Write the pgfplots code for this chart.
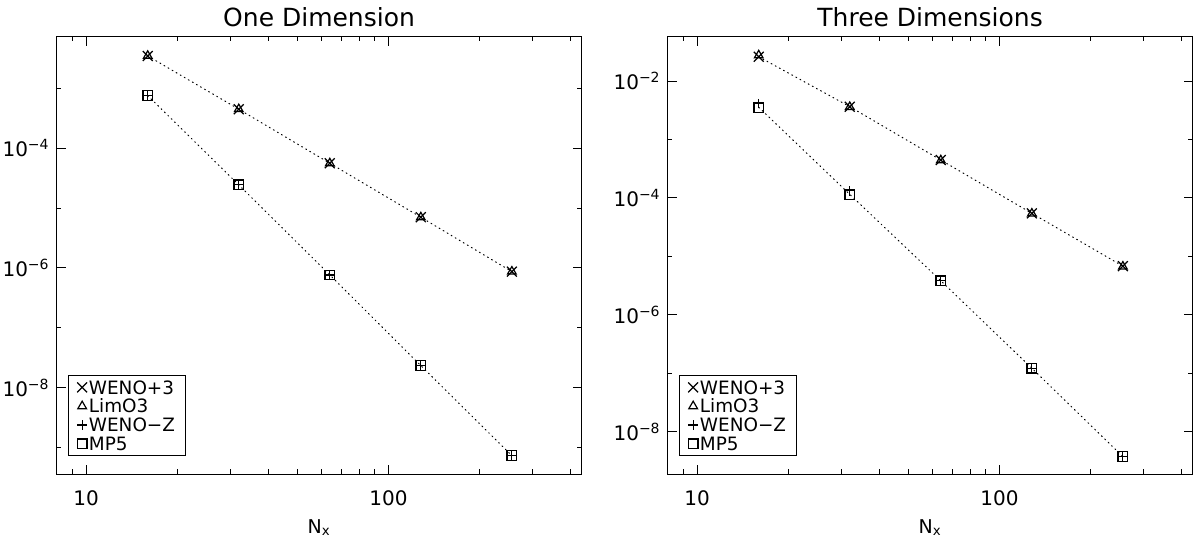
\documentclass[border=0pt]{standalone}
\usepackage{fontspec}
\setmainfont{DejaVu Sans}
\usepackage{pgfplots}
\pgfplotsset{compat=1.18}

\pgfplotsset{
  convax/.style={
    scale only axis, width=262.4pt, height=218.65pt,
    xmin=8, xmax=435,
    axis line style={line width=0.5pt},
    every tick/.style={black, line width=0.5pt},
    major tick length=4.5pt, minor tick length=2.3pt,
    tick align=inside,
    xtick={10,100}, xticklabels={10,100},
    minor xtick={9,20,30,40,50,60,70,80,90,200,300,400},
    tick label style={font=\fontsize{10}{11}\selectfont},
    xticklabel style={yshift=-5pt},
    xlabel={N\textsubscript{x}},
    xlabel style={at={(axis description cs:0.5,0)}, anchor=base, yshift=-29.5pt,
                  font=\fontsize{9.5}{10}\selectfont},
    every axis title/.style={at={(axis description cs:0.5,1)}, anchor=base, yshift=5pt,
                 font=\fontsize{12.5}{14}\selectfont},
    legend style={at={(0.021,0.041)}, anchor=south west, draw=black, line width=0.5pt,
                  inner xsep=4.5pt, inner ysep=1.2pt, row sep=0pt, column sep=0.4pt,
                  font=\fontsize{9.2}{11}\selectfont,
                  nodes={inner xsep=0.5pt, inner ysep=1.3pt, text height=6.8pt, text depth=0pt}},
    legend cell align=left,
  },
  mklegend/.style={legend image code/.code={\draw[##1] plot coordinates {(0pt,0pt)};}},
  conn/.style={forget plot, black, line width=0.5pt, dash pattern=on 0.5pt off 1.85pt, line cap=round},
  wenop/.style={black, only marks, mark=x, mark size=3.5pt, mark options={line width=0.6pt, solid}},
  limo/.style={black, only marks, mark=triangle, mark size=2.5pt, mark options={line width=0.6pt, solid}},
  wenoz/.style={black, only marks, mark=+, mark size=2.4pt, mark options={line width=0.6pt, solid}},
  mpfive/.style={black, only marks, mark=square, mark size=2.4pt, mark options={line width=0.6pt, solid}},
}

\begin{document}
\begin{tikzpicture}
\useasboundingbox (0,0) rectangle (596.5pt,268.5pt);

% ---------- one-dimensional test ----------
\begin{loglogaxis}[convax, mklegend, at={(28.35pt,31.5pt)}, anchor=south west,
  title={One Dimension},
  ymin=3.6e-10, ymax=7.3e-3,
  ytick={1e-8,1e-6,1e-4},
  yticklabels={10\textsuperscript{−8},10\textsuperscript{−6},10\textsuperscript{−4}},
  minor ytick={1e-9,1e-7,1e-5,1e-3},
]
\addplot[conn] coordinates {(16,3.48e-3)(32,4.49e-4)(64,5.61e-5)(128,7.03e-6)(256,8.67e-7)};
\addplot[conn] coordinates {(16,7.57e-4)(32,2.44e-5)(64,7.64e-7)(128,2.33e-8)(256,7.3e-10)};
\addplot[wenop]  coordinates {(16,3.48e-3)(32,4.49e-4)(64,5.61e-5)(128,7.03e-6)(256,8.67e-7)};
\addplot[limo]   coordinates {(16,3.5e-3)(32,4.5e-4)(64,5.6e-5)(128,7.0e-6)(256,8.7e-7)};
\addplot[wenoz]  coordinates {(16,7.57e-4)(32,2.44e-5)(64,7.64e-7)(128,2.33e-8)(256,7.3e-10)};
\addplot[mpfive] coordinates {(16,7.57e-4)(32,2.44e-5)(64,7.64e-7)(128,2.33e-8)(256,7.3e-10)};
\legend{WENO+3,LimO3,WENO−Z,MP5}
\end{loglogaxis}

% ---------- three-dimensional test ----------
\begin{loglogaxis}[convax, mklegend, at={(333.85pt,31.5pt)}, anchor=south west,
  title={Three Dimensions},
  ymin=1.89e-9, ymax=5.73e-2,
  ytick={1e-8,1e-6,1e-4,1e-2},
  yticklabels={10\textsuperscript{−8},10\textsuperscript{−6},10\textsuperscript{−4},10\textsuperscript{−2}},
  minor ytick={1e-7,1e-5,1e-3},
]
\addplot[conn] coordinates {(16,2.6e-2)(32,3.64e-3)(64,4.45e-4)(128,5.45e-5)(256,6.8e-6)};
\addplot[conn] coordinates {(16,3.55e-3)(32,1.15e-4)(64,3.83e-6)(128,1.22e-7)(256,3.75e-9)};
\addplot[wenop]  coordinates {(16,2.6e-2)(32,3.64e-3)(64,4.45e-4)(128,5.45e-5)(256,6.8e-6)};
\addplot[limo]   coordinates {(16,2.75e-2)(32,3.6e-3)(64,4.4e-4)(128,5.4e-5)(256,6.7e-6)};
\addplot[wenoz]  coordinates {(16,4.1e-3)(32,1.32e-4)(64,3.85e-6)(128,1.22e-7)(256,3.75e-9)};
\addplot[mpfive] coordinates {(16,3.55e-3)(32,1.15e-4)(64,3.83e-6)(128,1.22e-7)(256,3.75e-9)};
\legend{WENO+3,LimO3,WENO−Z,MP5}
\end{loglogaxis}
\end{tikzpicture}
\end{document}
